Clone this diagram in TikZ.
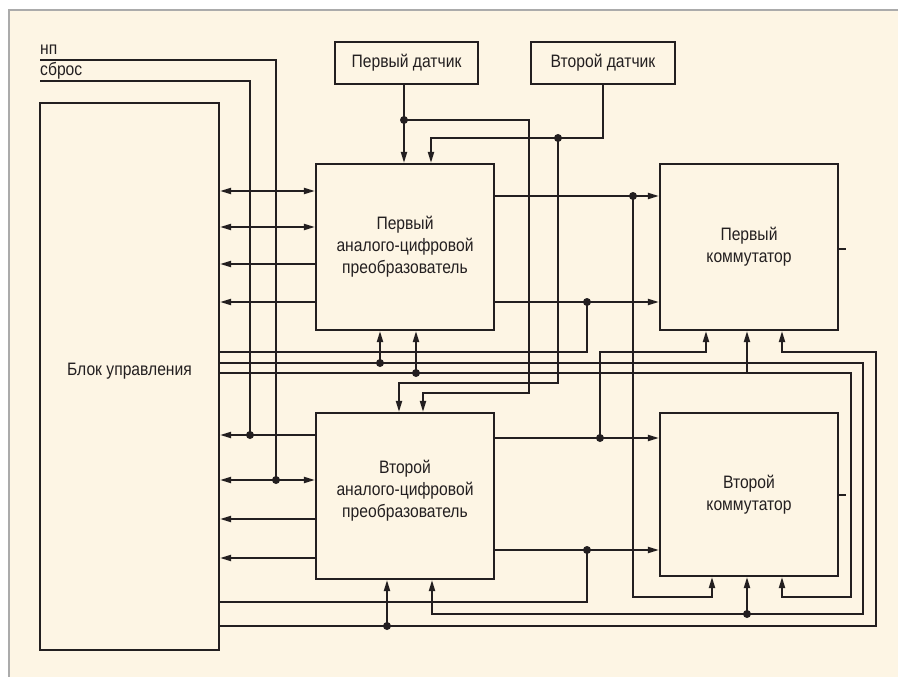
\documentclass[tikz,border=0pt]{standalone}
\usepackage{fontspec}
\setmainfont{Liberation Sans}[FakeStretch=0.87]
\usetikzlibrary{arrows.meta}
\definecolor{cInk}{HTML}{231F20}
\definecolor{cPaper}{HTML}{FDF5E4}
\definecolor{cEdge}{HTML}{ABABAB}
\tikzset{
  blk/.style={draw=cInk,line width=2.1pt,fill=cPaper,inner sep=0pt,align=center,
    font=\fontsize{18}{22}\selectfont,text=cInk},
  lbl/.style={inner sep=0pt,align=center,font=\fontsize{18}{22}\selectfont,text=cInk},
  wire/.style={draw=cInk,line width=1.9pt},
  arr/.style={wire,-{Triangle[length=11pt,width=6pt]}},
  dbl/.style={wire,{Triangle[length=11pt,width=6pt]}-{Triangle[length=11pt,width=6pt]}},
  jdot/.style={circle,fill=cInk,inner sep=0pt,minimum size=8pt},
}

\begin{document}
\begin{tikzpicture}[x=1pt,y=-1pt]
  \useasboundingbox (0,0) rectangle (898,677);
  % page
  \fill[white] (0,0) rectangle (898,677);
  \fill[cPaper] (9,10) rectangle (898,677);
  \draw[cEdge,line width=2pt] (9,677) -- (9,10) -- (898,10);
  % blocks
  \node[blk,minimum width=179pt,minimum height=547pt,
    label={[lbl,yshift=5pt]center:Блок управления}] (ctrl) at (129.5,376.5) {};
  \node[blk,minimum width=143pt,minimum height=42pt] (sA) at (406.5,63) {Первый датчик};
  \node[blk,minimum width=144pt,minimum height=42pt] (sB) at (603,63) {Второй датчик};
  \node[blk,minimum width=178pt,minimum height=166pt] (adcA) at (405,247)
    {Первый\\аналого-цифровой\\преобразователь};
  \node[blk,minimum width=178pt,minimum height=166pt,
    label={[lbl,yshift=5pt]center:{Второй\\аналого-цифровой\\преобразователь}}] (adcB) at (405,496) {};
  \node[blk,minimum width=178pt,minimum height=166pt] (comA) at (749,247) {Первый\\коммутатор};
  \node[blk,minimum width=178pt,minimum height=163pt] (comB) at (749,494.5) {Второй\\коммутатор};
  % inputs
  \node[lbl,anchor=base west] (np) at (40,55) {нп};
  \node[lbl,anchor=base west] (rst) at (40,76) {сброс};
  % junctions
  \foreach \n/\x/\y in {dA1/404/120,dB1/558/138,dA2/633/196,dA3/587/302,dB2/600/438,
    dB3/587/550,dC1/380/363,dC3/416/373,dC2/747/614,dC4/387/626,dNp/276/480,dRst/250/435}
    \node[jdot] (\n) at (\x,\y) {};
  \draw[wire] ([yshift=-5pt]np.base west) -| (dNp.center);
  \draw[wire] ([yshift=-5pt]rst.base west) -| (dRst.center);
  % control unit <-> converters
  \foreach \y in {191,227} \draw[dbl] (ctrl.east |- 0,\y) -- (adcA.west |- 0,\y);
  \foreach \y in {264,302} \draw[arr] (adcA.west |- 0,\y) -- (ctrl.east |- 0,\y);
  \foreach \y in {435,519,558} \draw[arr] (adcB.west |- 0,\y) -- (ctrl.east |- 0,\y);
  \draw[dbl] (ctrl.east |- 0,480) -- (adcB.west |- 0,480);
  % sensors
  \draw[wire] (sA.south -| dA1) -- (dA1.center);
  \draw[arr] (dA1.center) -- (dA1 |- adcA.north);
  \draw[arr] (dA1.center) -| (529,393) -| (adcB.north -| 423,0);
  \draw[wire] (sB.south) |- (dB1.center);
  \draw[arr] (dB1.center) -| (adcA.north -| 431,0);
  \draw[arr] (dB1.center) |- (399,383) -- (adcB.north -| 399,0);
  % converter outputs
  \draw[arr] (adcA.east |- dA2) -- (comA.west |- dA2);
  \draw[arr] (adcA.east |- dA3) -- (comA.west |- dA3);
  \draw[arr] (adcB.east |- dB2) -- (comB.west |- dB2);
  \draw[arr] (adcB.east |- dB3) -- (comB.west |- dB3);
  \draw[arr] (dA2.center) |- (712,597) -- (comB.south -| 712,0);
  \draw[wire] (dA3.center) |- (ctrl.east |- 0,352);
  \draw[arr] (dB2.center) |- (706,352) -- (comA.south -| 706,0);
  \draw[wire] (dB3.center) |- (ctrl.east |- 0,602);
  % control buses
  \draw[arr] (ctrl.east |- dC1) -| (863,614) -| (adcB.south -| 432,0);
  \draw[arr] (dC1.center) -- (dC1 |- adcA.south);
  \draw[arr] (dC2.center) -- (dC2 |- comB.south);
  \draw[arr] (ctrl.east |- dC3) -| (851,597) -| (comB.south -| 782,0);
  \draw[arr] (dC3.center) -- (dC3 |- adcA.south);
  \draw[arr] (dC2 |- dC3) -- (dC2 |- comA.south);
  \draw[arr] (ctrl.east |- dC4) -| (876,352) -| (comA.south -| 782,0);
  \draw[arr] (dC4.center) -- (dC4 |- adcB.south);
  % outputs
  \draw[wire] (comA.east |- 0,249) -- ++(7,0);
  \draw[wire] (comB.east |- 0,495) -- ++(7,0);
\end{tikzpicture}
\end{document}
